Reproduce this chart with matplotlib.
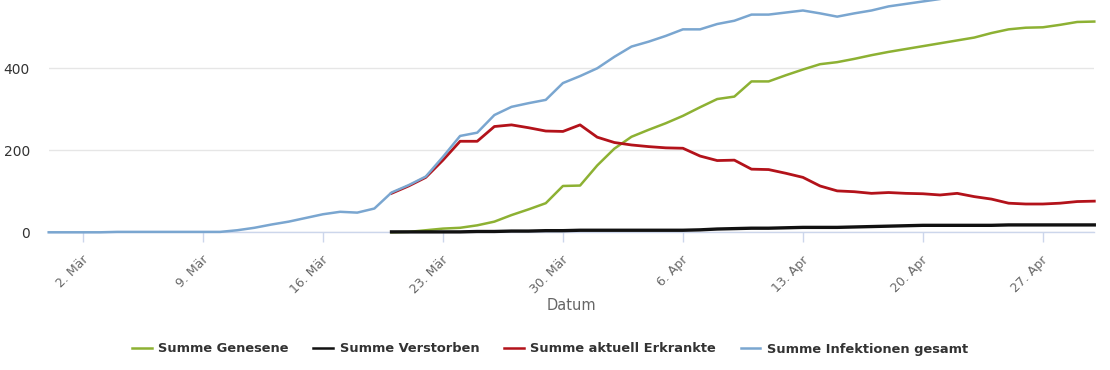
import numpy as np
import matplotlib
matplotlib.use("Agg")
import matplotlib.pyplot as plt
import matplotlib.transforms as mtransforms

# ---------------- data ----------------
dates_all = np.arange('2020-02-29', '2020-05-01', dtype='datetime64[D]')   # Infektionen gesamt
dates_sub = np.arange('2020-03-20', '2020-05-01', dtype='datetime64[D]')   # other series

infektionen_gesamt = [
    0, 0, 0, 0, 1, 1, 1, 1, 1, 1, 1, 5, 11, 19, 26, 35, 44, 50, 48, 58,
    97, 115, 136, 184, 235, 243, 286, 306, 315, 323, 364, 381,
    400, 428, 453, 465, 479, 495, 495, 508, 516, 531, 531, 536, 541, 534,
    526, 534, 541, 551, 557, 563, 569, 580, 579, 584, 584, 586, 587, 595,
    606, 608,
]
aktuell_erkrankte = [
    95, 113, 134, 176, 222, 222, 258, 262, 255, 247, 246, 262,
    232, 219, 213, 209, 206, 205, 186, 175, 176, 154, 153, 144, 134, 113,
    101, 99, 95, 97, 95, 94, 91, 95, 87, 81, 71, 69, 69, 71, 75, 76,
]
genesene = [
    0, 1, 5, 9, 11, 17, 26, 42, 56, 71, 113, 114,
    163, 204, 233, 250, 266, 284, 305, 325, 331, 368, 368, 383, 397, 410,
    415, 423, 432, 440, 447, 454, 461, 468, 475, 486, 495, 499, 500, 506,
    513, 514,
]
verstorben = [
    1, 1, 1, 1, 1, 2, 2, 3, 3, 4, 4, 5,
    5, 5, 5, 5, 5, 5, 6, 8, 9, 10, 10, 11, 12, 12, 12, 13, 14, 15, 16, 17,
    17, 17, 17, 17, 18, 18, 18, 18, 18, 18,
]

tick_dates = np.array(['2020-03-02', '2020-03-09', '2020-03-16', '2020-03-23',
                       '2020-03-30', '2020-04-06', '2020-04-13', '2020-04-20',
                       '2020-04-27'], dtype='datetime64[D]')
tick_labels = ["2. Mär", "9. Mär", "16. Mär", "23. Mär", "30. Mär",
               "6. Apr", "13. Apr", "20. Apr", "27. Apr"]
y_ticks = [0, 200, 400]

series_names = ["Summe Genesene", "Summe Verstorben",
                "Summe aktuell Erkrankte", "Summe Infektionen gesamt"]

# ---------------- figure ----------------
W, H = 1110, 370
fig = plt.figure(figsize=(W / 100, H / 100), dpi=100)
left_px, right_px, bottom_px, top_px = 48.7, 1094.3, 232.3, 0.0
ax = fig.add_axes([left_px / W, 1 - bottom_px / H,
                   (right_px - left_px) / W, (bottom_px - top_px) / H])

green = '#8db133'
black = '#111111'
red = '#b3121a'
blue = '#7aa6d0'

ax.plot(dates_sub, genesene, color=green, lw=1.8, label=series_names[0],
        clip_on=False, zorder=3, solid_joinstyle='round')
ax.plot(dates_sub, verstorben, color=black, lw=2.4, label=series_names[1],
        clip_on=False, zorder=4, solid_joinstyle='round')
ax.plot(dates_sub, aktuell_erkrankte, color=red, lw=2.0, label=series_names[2],
        clip_on=False, zorder=5, solid_joinstyle='round')
ax.plot(dates_all, infektionen_gesamt, color=blue, lw=1.8, label=series_names[3],
        clip_on=False, zorder=6, solid_joinstyle='round')

ax.set_xlim(dates_all[0], dates_all[-1])
ax.set_ylim(0, bottom_px / 0.41)

# grid
ax.set_yticks(y_ticks)
ax.set_yticklabels([str(v) for v in y_ticks])
ax.yaxis.grid(True, color='#e6e6e6', lw=1)
ax.set_axisbelow(True)
ax.tick_params(axis='y', length=0, pad=13.5, labelsize=10, labelcolor='#333333')

for s in ['top', 'right', 'left']:
    ax.spines[s].set_visible(False)
ax.spines['bottom'].set_color('#ccd6eb')
ax.spines['bottom'].set_linewidth(1)
ax.spines['bottom'].set_zorder(2)

ax.set_xticks(tick_dates)
ax.set_xticklabels(tick_labels)
ax.tick_params(axis='x', length=7.5, width=1, color='#ccd6eb', direction='out',
               pad=11, labelsize=9, labelcolor='#666666')
offset = mtransforms.ScaledTranslation(3 / 100, 0, fig.dpi_scale_trans)
for lab in ax.get_xticklabels():
    lab.set_rotation(45)
    lab.set_ha('right')
    lab.set_va('center')
    lab.set_rotation_mode('anchor')
    lab.set_transform(lab.get_transform() + offset)

fig.text(571.5 / W, 1 - 306 / H, "Datum", ha='center', va='center',
         fontsize=10.5, color='#666666')

leg = fig.legend(loc='center', bbox_to_anchor=(550 / W, 1 - 349 / H), ncol=4,
                 frameon=False, handlelength=1.5, handletextpad=0.5,
                 columnspacing=1.9, prop={'weight': 'bold', 'size': 9.4})
for t in leg.get_texts():
    t.set_color('#333333')
for h in leg.legend_handles:
    h.set_linewidth(1.8)

fig.savefig('out.png', dpi=100)
